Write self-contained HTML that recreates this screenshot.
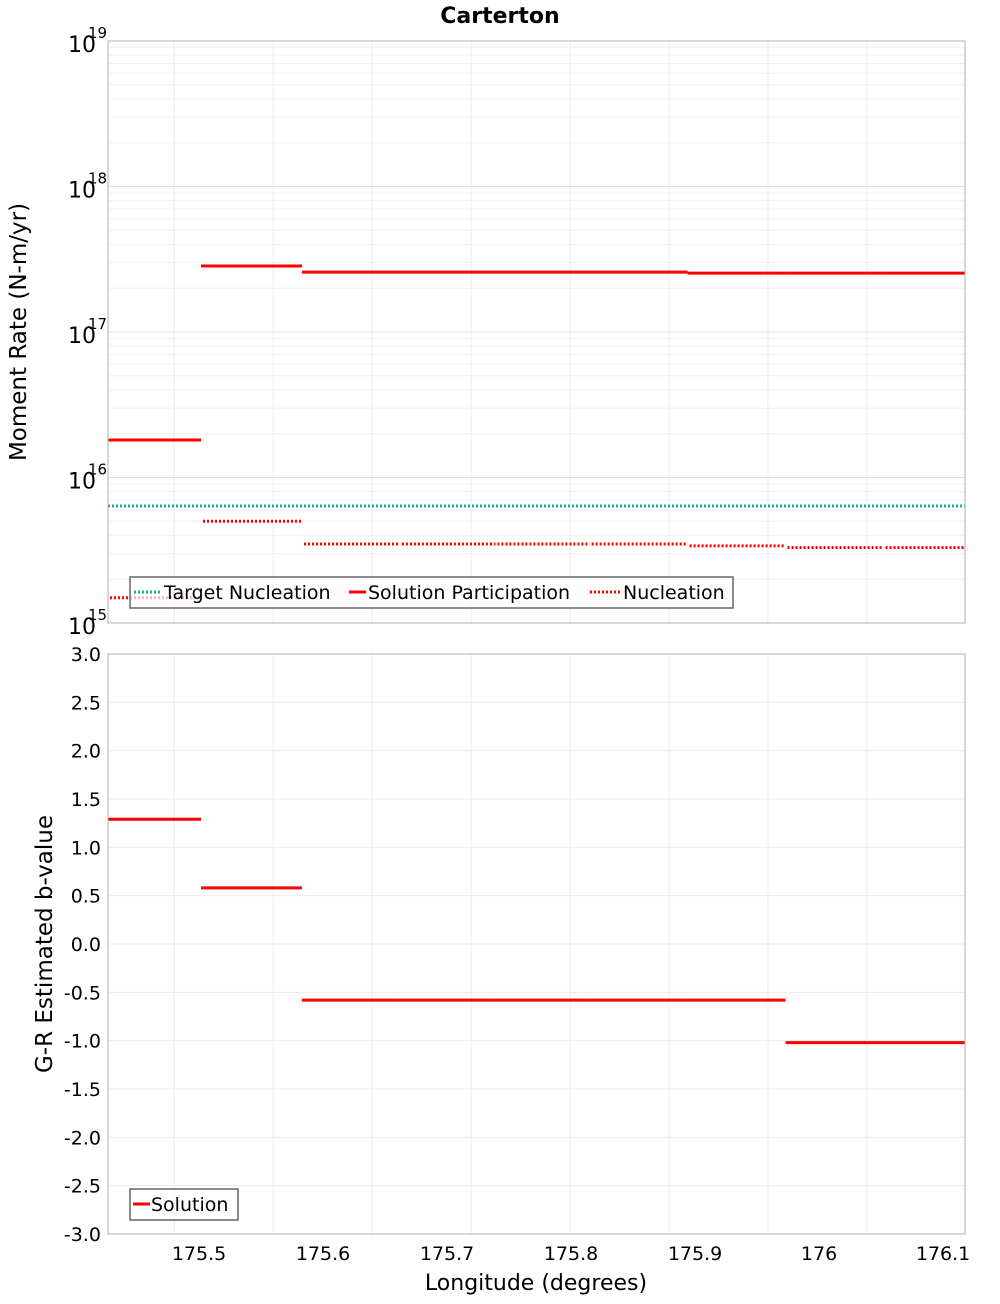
<!DOCTYPE html>
<html><head><meta charset="utf-8"><style>
body{margin:0;background:#fff;font-family:"DejaVu Sans","Liberation Sans",sans-serif;}
svg text{font-family:"DejaVu Sans","Liberation Sans",sans-serif;}
</style></head><body>
<svg id="chart" width="1000" height="1300" xmlns="http://www.w3.org/2000/svg">
<rect width="1000" height="1300" fill="#fff"/>
<text x="500" y="23" text-anchor="middle" font-size="22" font-weight="bold">Carterton</text>
<text transform="translate(26,332) rotate(-90)" text-anchor="middle" font-size="23">Moment Rate (N-m/yr)</text>
<text transform="translate(52,944) rotate(-90)" text-anchor="middle" font-size="23">G-R Estimated b-value</text>
<text x="536" y="1290" text-anchor="middle" font-size="22">Longitude (degrees)</text>
<g id="topG"></g><g id="botG"></g>
</svg>
<script>
const binEdges=[175.4266,175.5016,175.583,175.662,175.739,175.815,175.894,175.973,176.052,176.118];
const solutionParticipation=[1.81e16,2.84e17,2.58e17,2.58e17,2.58e17,2.58e17,2.54e17,2.54e17,2.54e17];
const nucleation=[1.49e15,5.0e15,3.49e15,3.49e15,3.49e15,3.49e15,3.39e15,3.3e15,3.3e15];
const targetNucleation=6.37e15;
const bValues=[1.29,0.58,-0.58,-0.58,-0.58,-0.58,-0.58,-1.02,-1.02];
const xTicks=[175.5,175.6,175.7,175.8,175.9,176,176.1];
const xTickLabels=["175.5","175.6","175.7","175.8","175.9","176","176.1"];
const bTicks=[-3,-2.5,-2,-1.5,-1,-0.5,0,0.5,1,1.5,2,2.5,3];
const NS="http://www.w3.org/2000/svg";
const L=108,R=965,xMin=175.4266,xMax=176.1177;
const X=v=>L+(v-xMin)/(xMax-xMin)*(R-L);
const T0=41,T1=623; const YT=v=>T0+(19-Math.log10(v))/4*(T1-T0);
const B0=654,B1=1234; const YB=v=>B0+(3-v)/6*(B1-B0);
function mk(p,tag,a,txt){const e=document.createElementNS(NS,tag);for(const k in a)e.setAttribute(k,a[k]);if(txt!==undefined)e.textContent=txt;p.appendChild(e);return e;}
const topG=document.getElementById('topG'),botG=document.getElementById('botG');
for(let g=175.480;g<xMax;g+=0.0798){
 const a=mk(topG,'line',{x1:X(g),x2:X(g),y1:T0,y2:T1,stroke:'#ebebeb'});
 
 
 const b=mk(botG,'line',{x1:X(g),x2:X(g),y1:B0,y2:B1,stroke:'#ebebeb'});
 
 
}
for(let d=15;d<19;d++){for(let m=1;m<10;m++){const v=m*Math.pow(10,d);
 const e=mk(topG,'line',{x1:L,x2:R,y1:YT(v),y2:YT(v),stroke:m==1?'#e0e0e0':'#f0f0f0'});
 
 }}
for(let d=15;d<=19;d++){
 const t=mk(topG,'text',{x:96,y:YT(Math.pow(10,d))+11,'text-anchor':'end','font-size':22},'10');
 
 
 const s=mk(topG,'text',{x:88,y:YT(Math.pow(10,d))-3,'font-size':15},String(d));
 
 
}
bTicks.forEach(v=>{
 const e=mk(botG,'line',{x1:L,x2:R,y1:YB(v),y2:YB(v),stroke:'#ebebeb'});
 
 
 const t=mk(botG,'text',{x:101,y:YB(v)+7,'text-anchor':'end','font-size':19},v.toFixed(1));
 
 
});
xTicks.forEach((v,i)=>{
 const t=mk(botG,'text',{x:X(v),y:1260,'text-anchor':'middle','font-size':19},xTickLabels[i]);
 
 
});
const tn=mk(topG,'line',{x1:L,x2:R,y1:YT(targetNucleation),y2:YT(targetNucleation),stroke:'#1aaea6','stroke-width':3,'stroke-dasharray':'2,2'});


for(let i=0;i<solutionParticipation.length;i++){
 const a=mk(topG,'line',{x1:X(binEdges[i]),x2:X(binEdges[i+1]),y1:YT(solutionParticipation[i]),y2:YT(solutionParticipation[i]),stroke:'#f00','stroke-width':3});
 
 
 const b=mk(topG,'line',{x1:X(binEdges[i])+2,x2:X(binEdges[i+1]),y1:YT(nucleation[i]),y2:YT(nucleation[i]),stroke:'#f00','stroke-width':3,'stroke-dasharray':'2,2'});
 
 
 const c=mk(botG,'line',{x1:X(binEdges[i]),x2:X(binEdges[i+1]),y1:YB(bValues[i]),y2:YB(bValues[i]),stroke:'#f00','stroke-width':3});
 
 
}
const f1=mk(topG,'rect',{x:L,y:T0,width:R-L,height:T1-T0,fill:'none',stroke:'#b0b0b0'});


const f2=mk(botG,'rect',{x:L,y:B0,width:R-L,height:B1-B0,fill:'none',stroke:'#b0b0b0'});


const lg=mk(topG,'g',{});


mk(lg,'rect',{x:130,y:577,width:603,height:31,fill:'rgba(255,255,255,0.7)',stroke:'#666','stroke-width':1.5});
mk(lg,'line',{x1:134,x2:162,y1:592,y2:592,stroke:'#1aaea6','stroke-width':3,'stroke-dasharray':'2,2'});
mk(lg,'text',{x:164,y:599,'font-size':19},'Target Nucleation');
mk(lg,'line',{x1:349,x2:366,y1:592,y2:592,stroke:'#f00','stroke-width':3});
mk(lg,'text',{x:368,y:599,'font-size':19},'Solution Participation');
mk(lg,'line',{x1:590,x2:620,y1:592,y2:592,stroke:'#f00','stroke-width':3,'stroke-dasharray':'2,2'});
mk(lg,'text',{x:623,y:599,'font-size':19},'Nucleation');
const lb=mk(botG,'g',{});


mk(lb,'rect',{x:130,y:1189,width:108,height:31,fill:'rgba(255,255,255,0.7)',stroke:'#666','stroke-width':1.5});
mk(lb,'line',{x1:133,x2:150,y1:1204,y2:1204,stroke:'#f00','stroke-width':3});
mk(lb,'text',{x:151,y:1211,'font-size':19},'Solution');
</script>
</body></html>
